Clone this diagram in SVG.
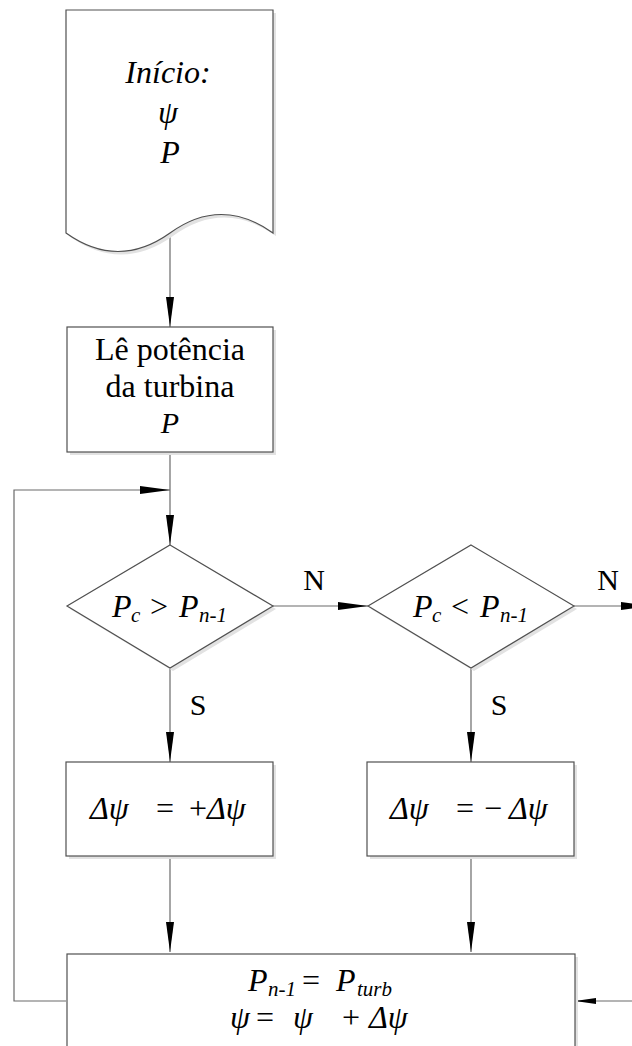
<svg xmlns="http://www.w3.org/2000/svg" width="632" height="1046" viewBox="0 0 632 1046">
<style>
.shape{fill:#fff;stroke:#505050;stroke-width:1.2}
.shadow{fill:#e2e2e2;stroke:none}
.conn{fill:none;stroke:#6a6a6a;stroke-width:1.2}
text{font-family:"Liberation Serif","Times New Roman",serif;fill:#000}
.t{font-size:32px}
.i{font-style:italic}
.m{font-size:32px;font-style:italic}
.sub{font-size:21px;font-style:italic}
.lbl{font-size:30px}
</style>
<defs>
<marker id="ah" markerUnits="userSpaceOnUse" markerWidth="30" markerHeight="8" refX="30" refY="4" orient="auto" overflow="visible">
<path d="M0,0 L30,4 L0,8 Z" fill="#000"/>
</marker>
<marker id="ahs" markerUnits="userSpaceOnUse" markerWidth="21" markerHeight="6" refX="21" refY="3" orient="auto" overflow="visible">
<path d="M0,0 L21,3 L0,6 Z" fill="#000"/>
</marker>
</defs>
<rect width="632" height="1046" fill="#fff"/>

<g id="connectors">
<path class="conn" d="M170,233 V327" marker-end="url(#ah)"/>
<path class="conn" d="M170,452 V545" marker-end="url(#ah)"/>
<path class="conn" d="M66,1001 H14 V490 H170" marker-end="url(#ah)"/>
<path class="conn" d="M273,606 H368" marker-end="url(#ah)"/>
<path class="conn" d="M574,606 H651" marker-end="url(#ah)"/>
<path class="conn" d="M170,668 V762" marker-end="url(#ah)"/>
<path class="conn" d="M471,668 V762" marker-end="url(#ah)"/>
<path class="conn" d="M170,856 V952" marker-end="url(#ah)"/>
<path class="conn" d="M471,856 V952" marker-end="url(#ah)"/>
<path class="conn" d="M632,1001 H575" marker-end="url(#ahs)"/>
<text class="lbl" x="314" y="590" text-anchor="middle">N</text>
<text class="lbl" x="608" y="590" text-anchor="middle">N</text>
<text class="lbl" x="198" y="715" text-anchor="middle">S</text>
<text class="lbl" x="499" y="715" text-anchor="middle">S</text>
</g>

<g id="start">
<path class="shadow" d="M69,13 H276 V236 Q224,199 173,236 Q121,273 69,236 Z"/>
<path class="shape" d="M66,10 H273 V233 Q221,196 170,233 Q118,270 66,233 Z"/>
<text class="t i" x="168" y="83" text-anchor="middle">Início:</text>
<text class="t i" x="168" y="123" text-anchor="middle">ψ</text>
<text class="t i" x="170" y="163" text-anchor="middle">P</text>
</g>

<g id="read-power">
<rect class="shadow" x="70" y="330" width="206" height="125"/>
<rect class="shape" x="67" y="327" width="206" height="125"/>
<text class="t" x="170" y="360" text-anchor="middle">Lê potência</text>
<text class="t" x="170" y="397" text-anchor="middle">da turbina</text>
<text class="i" x="170" y="433" text-anchor="middle" font-size="30">P</text>
</g>

<g id="decision-greater">
<path class="shadow" d="M173,548 L276,609 L173,671 L70,609 Z"/>
<path class="shape" d="M170,545 L273,606 L170,668 L67,606 Z"/>
<text class="m" x="112" y="617">P</text>
<text class="sub" x="131" y="622">c</text>
<text class="t" x="150" y="617">&gt;</text>
<text class="m" x="179" y="617">P</text>
<text class="sub" x="199" y="622">n-1</text>
</g>

<g id="decision-less">
<path class="shadow" d="M474,548 L577,609 L474,671 L371,609 Z"/>
<path class="shape" d="M471,545 L574,606 L471,668 L368,606 Z"/>
<text class="m" x="413" y="617">P</text>
<text class="sub" x="432" y="622">c</text>
<text class="t" x="451" y="617">&lt;</text>
<text class="m" x="480" y="617">P</text>
<text class="sub" x="500" y="622">n-1</text>
</g>

<g id="inc">
<rect class="shadow" x="69" y="765" width="207" height="94"/>
<rect class="shape" x="66" y="762" width="207" height="94"/>
<text class="m" x="90" y="819">Δψ</text>
<text class="t" x="156" y="819">=</text>
<text class="t" x="189" y="819">+</text>
<text class="m" x="207" y="819">Δψ</text>
</g>

<g id="dec">
<rect class="shadow" x="370" y="765" width="207" height="94"/>
<rect class="shape" x="367" y="762" width="207" height="94"/>
<text class="m" x="390" y="819">Δψ</text>
<text class="t" x="456" y="819">=</text>
<text class="t" x="484" y="819">−</text>
<text class="m" x="509" y="819">Δψ</text>
</g>

<g id="update">
<rect class="shadow" x="70" y="957" width="508" height="100"/>
<rect class="shape" x="67" y="954" width="508" height="100"/>
<text class="m" x="248" y="991">P</text>
<text class="sub" x="268" y="996">n-1</text>
<text class="t" x="302" y="991">=</text>
<text class="m" x="336" y="991">P</text>
<text class="sub" x="357" y="996">turb</text>
<text class="m" x="230" y="1028">ψ</text>
<text class="t" x="256" y="1028">=</text>
<text class="m" x="293" y="1028">ψ</text>
<text class="t" x="342" y="1028">+</text>
<text class="m" x="369" y="1028">Δψ</text>
</g>
</svg>
